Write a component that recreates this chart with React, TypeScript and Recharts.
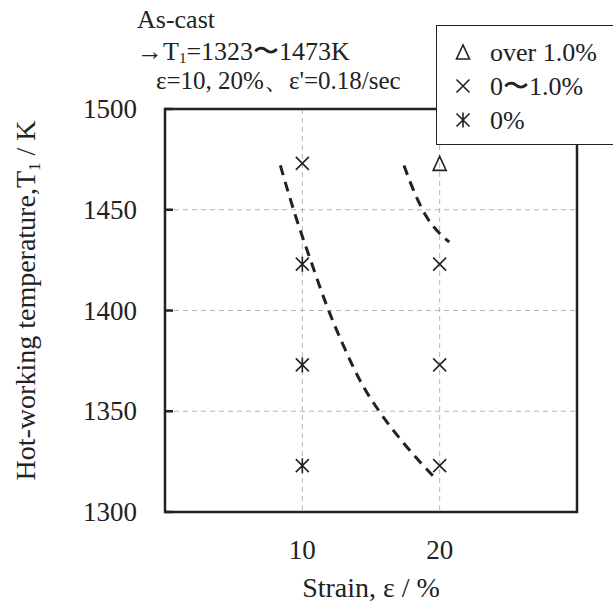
import React from 'react';
import {
  CartesianGrid,
  Label,
  Legend,
  ReferenceArea,
  Scatter,
  ScatterChart,
  XAxis,
  YAxis,
} from 'recharts';

// Axis ticks
const xTicks = [10, 20];
const yTicks = [1300, 1350, 1400, 1450, 1500];

// Measured points (strain %, temperature K)
const overOnePct = [{ strain: 20, temp: 1473 }];
const zeroToOnePct = [
  { strain: 10, temp: 1473 },
  { strain: 20, temp: 1423 },
  { strain: 20, temp: 1373 },
  { strain: 20, temp: 1323 },
];
const zeroPct = [
  { strain: 10, temp: 1423 },
  { strain: 10, temp: 1373 },
  { strain: 10, temp: 1323 },
];

// Dashed boundary curves
const leftBoundary = [
  { strain: 8.4, temp: 1472 },
  { strain: 9.5, temp: 1447 },
  { strain: 10.6, temp: 1425 },
  { strain: 11.8, temp: 1402 },
  { strain: 12.9, temp: 1384 },
  { strain: 14.3, temp: 1364 },
  { strain: 15.7, temp: 1349 },
  { strain: 17.4, temp: 1334 },
  { strain: 19.5, temp: 1318 },
];
const rightBoundary = [
  { strain: 17.4, temp: 1472 },
  { strain: 18.2, temp: 1458 },
  { strain: 19.0, temp: 1447 },
  { strain: 19.9, temp: 1439 },
  { strain: 20.7, temp: 1434 },
];

const legendItems = [
  { label: 'over 1.0%', shape: 'triangle' },
  { label: '0〜1.0%', shape: 'cross' },
  { label: '0%', shape: 'asterisk' },
];

const INK = '#222';
const FONT = '"Liberation Serif", "Times New Roman", serif';

const Triangle = ({ cx, cy }: any) => (
  <polygon
    points={`${cx},${cy - 7} ${cx - 6.5},${cy + 7} ${cx + 6.5},${cy + 7}`}
    fill="none"
    stroke={INK}
    strokeWidth={1.6}
  />
);

const Cross = ({ cx, cy }: any) => (
  <path
    d={`M${cx - 6.5},${cy - 6.5}L${cx + 6.5},${cy + 6.5}M${cx - 6.5},${cy + 6.5}L${cx + 6.5},${cy - 6.5}`}
    stroke={INK}
    strokeWidth={1.6}
  />
);

const Asterisk = ({ cx, cy }: any) => (
  <path
    d={`M${cx - 6.5},${cy - 6.5}L${cx + 6.5},${cy + 6.5}M${cx - 6.5},${cy + 6.5}L${cx + 6.5},${cy - 6.5}M${cx},${cy - 7.5}L${cx},${cy + 7.5}`}
    stroke={INK}
    strokeWidth={1.6}
  />
);

const shapes: Record<string, React.FC<any>> = {
  triangle: Triangle,
  cross: Cross,
  asterisk: Asterisk,
};

const NoDot = () => <g />;

const YTick = (props: any) => {
  const { x, y, payload } = props;
  return (
    <g>
      <text x={x} y={y} dy={9} textAnchor="end" fontSize={27} fill={INK} fontFamily={FONT}>
        {payload.value}
      </text>
      <line x1={x + 28} x2={x + 36} y1={y} y2={y} stroke={INK} strokeWidth={2.5} />
    </g>
  );
};

const YTitle = ({ viewBox }: any) => {
  const cy = viewBox.y + viewBox.height / 2 - 10;
  return (
    <text
      transform={`translate(35, ${cy}) rotate(-90)`}
      textAnchor="middle"
      fontSize={28}
      fill={INK}
      fontFamily={FONT}
    >
      Hot-working temperature,T
      <tspan fontSize={17} dy={5}>1</tspan>
      <tspan dy={-5}>{'  / K'}</tspan>
    </text>
  );
};

const LegendBox = () => (
  <div
    style={{
      width: 190,
      height: 120,
      boxSizing: 'border-box',
      border: `1.5px solid ${INK}`,
      background: '#fff',
    }}
  >
    <svg width={190} height={118} style={{ display: 'block' }}>
      {legendItems.map((item, i) => {
        const Shape = shapes[item.shape];
        const cy = 26 + i * 34;
        return (
          <g key={item.label}>
            <Shape cx={26} cy={cy} />
            <text x={53} y={cy + 9} fontSize={26} fill={INK} fontFamily={FONT}>
              {item.label}
            </text>
          </g>
        );
      })}
    </svg>
  </div>
);

export default function App() {
  return (
    <div
      style={{
        position: 'absolute',
        left: 0,
        top: 0,
        width: 613,
        height: 603,
        overflow: 'hidden',
        background: '#fff',
        fontFamily: FONT,
      }}
    >
      <ScatterChart
        width={613}
        height={603}
        margin={{ top: 109, right: 36, bottom: 0, left: 0 }}
      >
        <CartesianGrid stroke="#b5b5b5" strokeDasharray="5 4" />
        <XAxis
          type="number"
          dataKey="strain"
          domain={[0, 30]}
          ticks={xTicks}
          height={91}
          axisLine={false}
          tickLine={false}
          tickSize={0}
          tickMargin={28}
          tick={{ fontSize: 27, fill: INK, fontFamily: FONT }}
        >
          <Label
            value="Strain,  ε / %"
            position="insideBottom"
            offset={6}
            fontSize={28}
            fill={INK}
            fontFamily={FONT}
          />
        </XAxis>
        <YAxis
          type="number"
          dataKey="temp"
          domain={[1300, 1500]}
          ticks={yTicks}
          width={165}
          axisLine={false}
          tickLine={false}
          tickSize={0}
          tickMargin={28}
          tick={<YTick />}
        >
          <Label content={<YTitle />} />
        </YAxis>
        <ReferenceArea
          x1={0}
          x2={30}
          y1={1300}
          y2={1500}
          fill="none"
          stroke={INK}
          strokeWidth={2.5}
          ifOverflow="visible"
        />
        <Scatter
          data={leftBoundary}
          line={{ stroke: INK, strokeWidth: 3, strokeDasharray: '10 7' }}
          lineJointType="monotoneX"
          shape={<NoDot />}
          isAnimationActive={false}
        />
        <Scatter
          data={rightBoundary}
          line={{ stroke: INK, strokeWidth: 3, strokeDasharray: '10 7' }}
          lineJointType="monotoneX"
          shape={<NoDot />}
          isAnimationActive={false}
        />
        <Scatter data={zeroToOnePct} shape={<Cross />} isAnimationActive={false} />
        <Scatter data={zeroPct} shape={<Asterisk />} isAnimationActive={false} />
        <Scatter data={overOnePct} shape={<Triangle />} isAnimationActive={false} />
        <Legend
          layout="horizontal"
          align="center"
          verticalAlign="middle"
          content={<LegendBox />}
          wrapperStyle={{ top: 25, left: 436, width: 190, height: 120 }}
        />
      </ScatterChart>
      <svg
        width={613}
        height={110}
        style={{ position: 'absolute', left: 0, top: 0, pointerEvents: 'none' }}
      >
        <text x={137} y={28} fontSize={26} fill={INK} fontFamily={FONT}>
          As-cast
        </text>
        <text x={137} y={60} fontSize={26} fill={INK} fontFamily={FONT}>
          →T<tspan fontSize={15} dy={3}>1</tspan>
          <tspan dy={-3}>=1323〜1473K</tspan>
        </text>
        <text x={156} y={89} fontSize={25} fill={INK} fontFamily={FONT}>
          ε=10, 20%、ε'=0.18/sec
        </text>
      </svg>
    </div>
  );
}
